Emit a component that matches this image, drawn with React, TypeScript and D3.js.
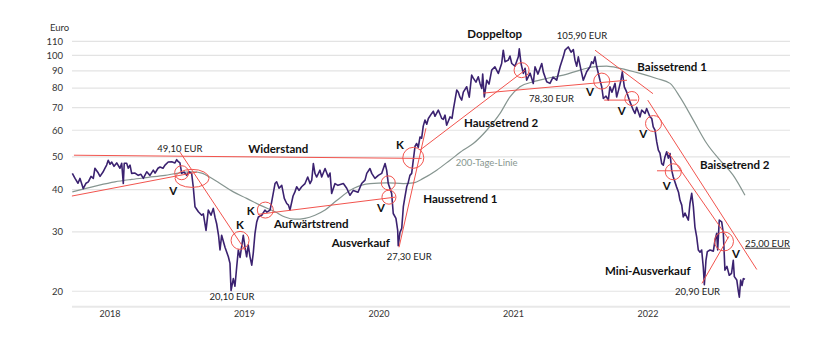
import React from "react";
import * as d3 from "d3";

const yearTicks = [2018, 2019, 2020, 2021, 2022];
const priceTicks = [20, 30, 40, 50, 60, 70, 80, 90, 100, 110];

// [decimal year, price in EUR]
const price: [number, number][] = [
  [2017.720,44.7],[2017.740,43.2],[2017.762,41.8],[2017.777,43.2],[2017.801,40.3],[2017.822,41.8],[2017.839,42.2],[2017.859,43.8],[2017.876,43.2],[2017.888,46.3],
  [2017.913,44.8],[2017.926,43.8],[2017.948,45.1],[2017.963,46.3],[2017.975,47.3],[2017.987,48.9],[2018.000,47.6],[2018.013,48.3],[2018.030,46.9],[2018.050,48.0],
  [2018.074,46.3],[2018.087,47.9],[2018.099,41.7],[2018.106,47.9],[2018.124,47.9],[2018.136,46.3],[2018.149,47.3],[2018.161,44.7],[2018.186,44.8],[2018.210,44.1],
  [2018.230,44.4],[2018.248,43.2],[2018.273,45.2],[2018.297,44.1],[2018.322,45.7],[2018.335,44.8],[2018.357,46.3],[2018.372,46.7],[2018.394,46.3],[2018.409,47.3],
  [2018.433,48.3],[2018.459,48.4],[2018.483,48.0],[2018.496,49.1],[2018.506,48.5],[2018.520,48.0],[2018.533,44.7],[2018.550,45.1],[2018.570,44.1],[2018.587,45.2],
  [2018.607,44.7],[2018.619,40.8],[2018.632,35.6],[2018.657,34.4],[2018.682,33.6],[2018.694,33.9],[2018.714,30.3],[2018.731,34.8],[2018.751,33.6],[2018.768,35.2],
  [2018.781,33.1],[2018.793,31.7],[2018.807,29.3],[2018.818,26.5],[2018.830,29.3],[2018.855,27.0],[2018.880,25.3],[2018.892,24.2],[2018.900,20.1],[2018.917,21.8],
  [2018.929,20.7],[2018.942,23.6],[2018.954,26.5],[2018.967,25.2],[2018.991,29.3],[2019.004,27.0],[2019.016,25.3],[2019.028,27.4],[2019.041,25.3],[2019.054,23.9],
  [2019.065,25.9],[2019.078,29.7],[2019.091,32.1],[2019.103,33.2],[2019.128,33.6],[2019.152,34.8],[2019.167,34.3],[2019.190,34.8],[2019.202,36.8],[2019.227,41.7],
  [2019.239,42.2],[2019.257,40.4],[2019.277,41.2],[2019.296,37.7],[2019.314,36.4],[2019.327,36.0],[2019.338,34.8],[2019.361,38.3],[2019.375,39.4],[2019.388,40.8],
  [2019.405,39.8],[2019.425,40.8],[2019.450,41.7],[2019.470,43.6],[2019.487,41.7],[2019.500,42.7],[2019.512,47.8],[2019.524,44.7],[2019.537,43.6],[2019.561,45.7],
  [2019.574,43.6],[2019.599,46.2],[2019.623,43.6],[2019.636,44.8],[2019.648,39.0],[2019.673,41.7],[2019.695,41.2],[2019.735,41.7],[2019.760,40.4],[2019.784,38.5],
  [2019.809,39.8],[2019.844,39.3],[2019.871,41.7],[2019.896,42.7],[2019.909,44.7],[2019.933,46.2],[2019.946,44.7],[2019.970,43.2],[2019.995,44.1],[2020.020,44.7],
  [2020.045,47.8],[2020.057,45.7],[2020.069,41.7],[2020.094,39.0],[2020.106,34.0],[2020.126,32.9],[2020.139,30.3],[2020.143,27.3],[2020.156,29.9],[2020.169,30.7],
  [2020.181,35.6],[2020.193,38.1],[2020.206,40.8],[2020.218,42.1],[2020.230,44.1],[2020.243,44.7],[2020.255,48.9],[2020.268,53.8],[2020.280,54.8],[2020.292,53.4],
  [2020.305,57.3],[2020.317,56.8],[2020.329,61.7],[2020.342,64.3],[2020.355,62.5],[2020.367,65.0],[2020.392,67.3],[2020.404,68.3],[2020.416,66.0],[2020.441,68.8],
  [2020.454,66.9],[2020.466,65.1],[2020.478,64.6],[2020.491,66.5],[2020.503,62.1],[2020.528,65.7],[2020.543,65.1],[2020.552,68.8],[2020.565,73.7],[2020.578,78.9],
  [2020.590,77.8],[2020.602,75.2],[2020.615,73.7],[2020.627,77.8],[2020.652,80.7],[2020.671,75.2],[2020.689,87.4],[2020.701,85.6],[2020.721,83.3],[2020.738,86.4],
  [2020.751,82.6],[2020.764,79.8],[2020.771,88.0],[2020.783,75.3],[2020.801,84.4],[2020.818,82.2],[2020.838,90.4],[2020.862,92.5],[2020.887,88.4],[2020.912,94.6],
  [2020.924,103.6],[2020.937,95.7],[2020.961,96.8],[2020.974,99.5],[2020.987,94.6],[2021.011,92.9],[2021.036,99.0],[2021.043,104.5],[2021.056,94.6],[2021.073,88.4],
  [2021.086,91.6],[2021.098,84.4],[2021.123,88.6],[2021.147,82.6],[2021.160,92.5],[2021.182,88.0],[2021.210,94.6],[2021.222,89.2],[2021.247,83.5],[2021.271,82.6],
  [2021.294,86.2],[2021.321,84.4],[2021.346,92.5],[2021.370,99.0],[2021.383,103.6],[2021.407,105.9],[2021.428,102.2],[2021.445,104.0],[2021.457,96.8],[2021.470,92.9],
  [2021.482,99.0],[2021.502,90.4],[2021.519,84.4],[2021.544,89.4],[2021.569,92.5],[2021.581,95.7],[2021.593,94.6],[2021.606,99.0],[2021.619,92.5],[2021.643,84.4],
  [2021.656,80.7],[2021.668,74.5],[2021.688,75.7],[2021.705,73.7],[2021.717,80.7],[2021.732,77.8],[2021.755,82.6],[2021.767,75.3],[2021.781,78.9],[2021.799,84.4],
  [2021.809,89.4],[2021.824,80.7],[2021.842,77.8],[2021.866,72.8],[2021.891,68.8],[2021.903,67.3],[2021.916,70.2],[2021.941,65.7],[2021.953,68.8],[2021.978,67.3],
  [2021.990,69.6],[2022.015,65.7],[2022.028,65.0],[2022.039,61.4],[2022.052,60.0],[2022.065,55.4],[2022.077,52.4],[2022.089,51.3],[2022.102,47.8],[2022.114,47.3],
  [2022.126,50.0],[2022.139,51.8],[2022.151,49.6],[2022.164,51.2],[2022.176,45.7],[2022.188,43.6],[2022.213,40.7],[2022.227,39.3],[2022.238,37.2],[2022.251,36.0],
  [2022.262,33.2],[2022.275,34.1],[2022.300,32.5],[2022.312,36.4],[2022.325,39.0],[2022.337,35.7],[2022.349,31.0],[2022.362,29.0],[2022.374,26.5],[2022.387,26.1],
  [2022.399,26.5],[2022.411,23.6],[2022.419,20.9],[2022.431,24.7],[2022.441,26.2],[2022.461,26.5],[2022.486,26.3],[2022.498,28.3],[2022.511,29.7],[2022.518,26.5],
  [2022.530,32.5],[2022.548,32.1],[2022.560,29.7],[2022.572,23.1],[2022.587,23.7],[2022.604,22.3],[2022.621,22.6],[2022.634,24.7],[2022.642,22.1],[2022.660,21.6],
  [2022.671,20.1],[2022.679,19.2],[2022.689,21.6],[2022.699,20.8],[2022.709,21.8],[2022.721,21.7],
];

// 200-day moving average
const ma200: [number, number][] = [
  [2017.720,39.4],[2017.814,40.3],[2017.913,41.2],[2018.037,42.2],[2018.161,42.9],[2018.285,43.5],[2018.409,44.1],[2018.508,44.8],[2018.607,45.2],[2018.682,44.8],
  [2018.719,44.1],[2018.818,41.7],[2018.917,39.4],[2019.016,37.7],[2019.115,36.0],[2019.227,34.4],[2019.301,33.2],[2019.375,32.7],[2019.450,32.9],[2019.524,33.6],
  [2019.599,34.8],[2019.680,37.0],[2019.809,40.3],[2019.933,41.7],[2020.057,41.9],[2020.181,41.7],[2020.255,41.9],[2020.329,43.2],[2020.429,45.7],[2020.528,48.9],
  [2020.627,52.4],[2020.701,54.8],[2020.801,60.0],[2020.900,67.3],[2020.974,75.3],[2021.048,80.7],[2021.147,83.5],[2021.247,85.4],[2021.370,87.4],[2021.494,90.4],
  [2021.593,92.5],[2021.692,92.9],[2021.792,91.5],[2021.941,88.4],[2022.065,85.4],[2022.164,82.6],[2022.238,75.2],[2022.337,64.3],[2022.437,54.8],[2022.535,48.9],
  [2022.634,44.1],[2022.721,38.5],
];

// Trend lines: [[t1, p1], [t2, p2]]
const trendLines: [number, number][][] = [
  [[2017.732,50.6],[2020.317,49.5]],
  [[2017.717,38.3],[2018.647,45.1]],
  [[2018.520,51.7],[2019.004,26.5]],
  [[2019.100,33.8],[2020.119,38.0]],
  [[2020.149,27.0],[2020.349,60.8]],
  [[2020.305,52.4],[2021.086,90.4]],
  [[2020.773,77.3],[2021.844,84.4]],
  [[2021.674,73.7],[2021.919,73.7]],
  [[2021.606,103.6],[2022.037,77.0]],
  [[2021.998,73.7],[2022.809,23.2]],
  [[2022.149,51.7],[2022.595,28.7]],
  [[2022.401,21.1],[2022.602,29.1]],
  [[2022.067,45.5],[2022.253,45.5]],
];

// Signal circles: t, p, radii
const circles = [
  { t: 2018.533, p: 44.9, rx: 7, ry: 7 },
  { t: 2018.610, p: 43.2, rx: 17, ry: 9 },
  { t: 2018.967, p: 28.3, rx: 9, ry: 9 },
  { t: 2019.155, p: 34.8, rx: 8, ry: 8 },
  { t: 2020.069, p: 41.9, rx: 7, ry: 7 },
  { t: 2020.074, p: 38.0, rx: 7, ry: 7 },
  { t: 2020.255, p: 49.7, rx: 10.5, ry: 10.5 },
  { t: 2021.060, p: 90.4, rx: 7.5, ry: 7.5 },
  { t: 2021.656, p: 83.9, rx: 8, ry: 8 },
  { t: 2021.880, p: 74.5, rx: 7, ry: 7 },
  { t: 2022.041, p: 62.8, rx: 8, ry: 8 },
  { t: 2022.188, p: 45.2, rx: 8, ry: 8 },
  { t: 2022.565, p: 28.1, rx: 9.5, ry: 9.5 },
];

type Lbl = { text: string; t: number; p: number; anchor: "start" | "middle"; bold?: boolean; gray?: boolean; underline?: boolean };
const labels: Lbl[] = [
  { text: "49,10 EUR", t: 2018.352, p: 51.6, anchor: "start" },
  { text: "Widerstand", t: 2019.028, p: 51.2, anchor: "start", bold: true },
  { text: "V", t: 2018.471, p: 38.5, anchor: "middle", bold: true },
  { text: "K", t: 2018.967, p: 30.5, anchor: "middle", bold: true },
  { text: "K", t: 2019.046, p: 33.7, anchor: "middle", bold: true },
  { text: "20,10 EUR", t: 2018.907, p: 18.9, anchor: "middle" },
  { text: "Aufwärtstrend", t: 2019.219, p: 30.7, anchor: "start", bold: true },
  { text: "Ausverkauf", t: 2019.648, p: 27.1, anchor: "start", bold: true },
  { text: "27,30 EUR", t: 2020.057, p: 24.7, anchor: "start" },
  { text: "V", t: 2020.015, p: 34.3, anchor: "middle", bold: true },
  { text: "Haussetrend 1", t: 2020.329, p: 36.4, anchor: "start", bold: true },
  { text: "K", t: 2020.156, p: 52.7, anchor: "middle", bold: true },
  { text: "200-Tage-Linie", t: 2020.570, p: 46.9, anchor: "start", gray: true },
  { text: "Haussetrend 2", t: 2020.632, p: 61.4, anchor: "start", bold: true },
  { text: "Doppeltop", t: 2020.657, p: 112.2, anchor: "start", bold: true },
  { text: "105,90 EUR", t: 2021.321, p: 111.7, anchor: "start" },
  { text: "78,30 EUR", t: 2021.115, p: 72.8, anchor: "start" },
  { text: "V", t: 2021.569, p: 75.7, anchor: "middle", bold: true },
  { text: "V", t: 2021.804, p: 66.5, anchor: "middle", bold: true },
  { text: "V", t: 2021.965, p: 57.0, anchor: "middle", bold: true },
  { text: "Baissetrend 1", t: 2021.921, p: 90.0, anchor: "start", bold: true },
  { text: "Baissetrend 2", t: 2022.387, p: 46.2, anchor: "start", bold: true },
  { text: "V", t: 2022.139, p: 39.8, anchor: "middle", bold: true },
  { text: "25,00 EUR", t: 2022.721, p: 27.1, anchor: "start", underline: true },
  { text: "V", t: 2022.654, p: 25.1, anchor: "middle", bold: true },
  { text: "Mini-Ausverkauf", t: 2021.680, p: 22.4, anchor: "start", bold: true },
  { text: "20,90 EUR", t: 2022.201, p: 19.5, anchor: "start" },
];

const W = 840;
const H = 342;
const FONT = "Lato, 'Open Sans', sans-serif";
const RED = "#f2544e";

export default function App() {
  const x = d3.scaleLinear().domain([2017.7175, 2023.0558]).range([72, 790]);
  const y = d3.scaleLog().domain([18, 110]).range([306.7, 41.4]);
  const line = d3
    .line<[number, number]>()
    .x((d) => x(d[0]))
    .y((d) => y(d[1]));
  const smooth = d3
    .line<[number, number]>()
    .x((d) => x(d[0]))
    .y((d) => y(d[1]))
    .curve(d3.curveMonotoneX);

  return (
    <svg
      width={W}
      height={H}
      style={{ position: "fixed", left: 0, top: 0, background: "#fff" }}
      fontFamily={FONT}
    >
      {priceTicks.map((v) => (
        <line key={"g" + v} x1={72} x2={790} y1={y(v)} y2={y(v)} stroke="#e3e3e3" strokeWidth={1.2} />
      ))}
      <line x1={72} x2={790} y1={y(18)} y2={y(18)} stroke="#e8e8e8" strokeWidth={2} />
      {priceTicks.map((v) => (
        <text key={"t" + v} x={63} y={y(v) + 3.3} textAnchor="end" fontSize={9.5} fill="#333">
          {v}
        </text>
      ))}
      <text x={50} y={31} fontSize={9.5} fill="#333">Euro</text>
      {yearTicks.map((yr) => (
        <text key={"y" + yr} x={x(yr)} y={317} textAnchor="middle" fontSize={9} fill="#333">
          {yr}
        </text>
      ))}

      <path d={smooth(ma200) || ""} fill="none" stroke="#869590" strokeWidth={1.2} />
      <path d={line(price) || ""} fill="none" stroke="#3b2270" strokeWidth={1.6} strokeLinejoin="round" />

      {trendLines.map((l, i) => (
        <line
          key={"l" + i}
          x1={x(l[0][0])}
          y1={y(l[0][1])}
          x2={x(l[1][0])}
          y2={y(l[1][1])}
          stroke={RED}
          strokeWidth={1}
        />
      ))}
      {circles.map((c, i) => (
        <ellipse key={"c" + i} cx={x(c.t)} cy={y(c.p)} rx={c.rx} ry={c.ry} fill="none" stroke={RED} strokeWidth={1} />
      ))}

      {labels.map((l, i) => (
        <text
          key={"lb" + i}
          x={x(l.t)}
          y={y(l.p)}
          textAnchor={l.anchor}
          fontSize={l.bold ? 11.5 : 9.5}
          fontWeight={l.bold ? 700 : 400}
          fill={l.gray ? "#87968f" : l.bold ? "#111" : "#222"}
          textDecoration={l.underline ? "underline" : undefined}
        >
          {l.text}
        </text>
      ))}
    </svg>
  );
}
